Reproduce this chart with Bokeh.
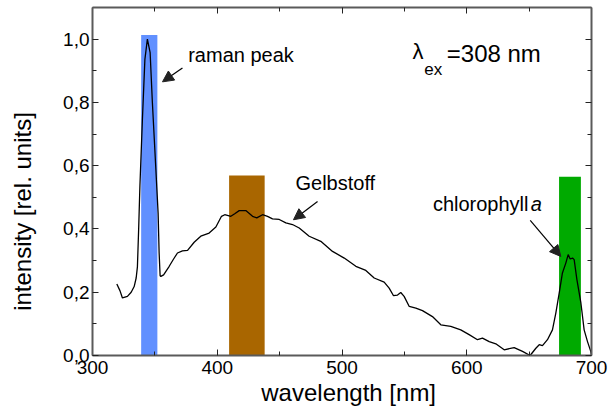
from bokeh.plotting import figure
from bokeh.models import (Range1d, LinearAxis, FixedTicker, CustomJSTickFormatter,
                          Arrow, NormalHead, Label)
from bokeh.embed import file_html
from bokeh.resources import INLINE

# ---- data ----
wavelength = [319.5, 322, 324, 328, 331, 333.4, 335, 336, 337, 338, 340, 342, 344, 346.2,
              348, 350.8, 352.6, 353.4, 354.2, 354.8, 357, 361.5, 365, 368.1, 372.1, 376.2,
              381.5, 386.8, 393.5, 398.9, 403.4, 406, 410.9, 414, 417.6, 422.9, 428.3,
              431.7, 436.3, 440.3, 444.3, 449.7, 455, 460.3, 465.7, 473.7, 483, 492.4,
              501.8, 511.1, 519.1, 525.8, 533.8, 537.8, 541.3, 544.5, 547.1, 549.8, 553.9,
              559.2, 564.5, 572.5, 579.2, 587.2, 595.2, 601.9, 608.6, 612.6, 618, 623.3,
              630, 638, 644.7, 650.8, 655.4, 658.1, 660.7, 664.7, 668.7, 671.4, 674.1,
              676.7, 679.4, 681.3, 682.9, 684.8, 686.1, 688.3, 691.5, 694.1, 696.8, 699.4, 700]
intensity = [0.226, 0.205, 0.182, 0.187, 0.200, 0.218, 0.245, 0.28, 0.40, 0.535, 0.746, 0.936,
             1.0, 0.957, 0.80, 0.588, 0.45, 0.325, 0.252, 0.25, 0.255, 0.282, 0.305, 0.324,
             0.331, 0.332, 0.358, 0.377, 0.387, 0.406, 0.44, 0.445, 0.44, 0.448, 0.458, 0.458,
             0.44, 0.435, 0.445, 0.44, 0.432, 0.43, 0.419, 0.414, 0.403, 0.377, 0.361, 0.329,
             0.308, 0.282, 0.269, 0.245, 0.232, 0.213, 0.189, 0.191, 0.199, 0.187, 0.155,
             0.15, 0.142, 0.123, 0.097, 0.092, 0.081, 0.066, 0.05, 0.055, 0.044, 0.037,
             0.018, 0.025, 0.013, 0.0, 0.023, 0.034, 0.031, 0.05, 0.081, 0.134, 0.197,
             0.261, 0.292, 0.319, 0.305, 0.308, 0.303, 0.24, 0.166, 0.081, 0.044, 0.013, 0.0]

band_left = [339, 409.5, 674]
band_right = [352, 438, 691.5]
band_top = [1.013, 0.569, 0.565]
band_colors = ["#6190FF", "#A96600", "#00AA00"]

x_major = [300, 400, 500, 600, 700]
x_minor = [350, 450, 550, 650]
y_major = [0.0, 0.2, 0.4, 0.6, 0.8, 1.0]
y_minor = [0.1, 0.3, 0.5, 0.7, 0.9]

FONT = "Liberation Sans"
NB = "\u00a0"

p = figure(frame_width=499, frame_height=348, output_backend="svg", toolbar_location=None,
           x_range=Range1d(300, 700), y_range=Range1d(0, 1.1),
           min_border_left=92, min_border_right=17, min_border_top=7, min_border_bottom=50,
           x_axis_label=NB * 2 + "wavelength [nm]",
           y_axis_label="intensity [rel. units]" + NB * 9)
p.outline_line_color = None
p.grid.visible = False
p.background_fill_color = "white"
p.border_fill_color = "white"

p.xaxis.ticker = FixedTicker(ticks=x_major, minor_ticks=x_minor)
p.yaxis.ticker = FixedTicker(ticks=y_major, minor_ticks=y_minor)
p.yaxis.formatter = CustomJSTickFormatter(code="return tick.toFixed(1).replace('.', ',');")

def style_axis(ax):
    ax.axis_line_color = "#5a5a5a"
    ax.axis_line_width = 2
    ax.major_tick_line_color = "#222222"
    ax.minor_tick_line_color = "#222222"
    ax.major_tick_in = 6
    ax.major_tick_out = 0
    ax.minor_tick_in = 4
    ax.minor_tick_out = 0
    ax.major_label_text_font = FONT
    ax.major_label_text_font_size = "19px"
    ax.major_label_text_color = "black"
    ax.axis_label_text_font = FONT
    ax.axis_label_text_font_size = "24px"
    ax.axis_label_text_font_style = "normal"
    ax.axis_label_text_color = "black"

for ax in p.xaxis + p.yaxis:
    style_axis(ax)
p.xaxis.major_label_standoff = 5
p.xaxis.axis_label_standoff = 2
p.yaxis.major_label_standoff = 3
p.yaxis.axis_label_standoff = 24

top = LinearAxis(ticker=FixedTicker(ticks=x_major, minor_ticks=x_minor))
right = LinearAxis(ticker=FixedTicker(ticks=y_major, minor_ticks=y_minor))
for ax in (top, right):
    style_axis(ax)
    ax.formatter = CustomJSTickFormatter(code="return '';")
    ax.major_label_standoff = 0
p.add_layout(top, "above")
p.add_layout(right, "right")

# bands
p.quad(left=band_left, right=band_right, bottom=0, top=band_top,
       fill_color=band_colors, line_color=None)

# spectrum
p.line(wavelength, intensity, line_color="black", line_width=1.3)

# annotations
arrow_tail_x = [372.1, 480.4, 650.9]
arrow_tail_y = [0.909, 0.487, 0.427]
arrow_tip_x = [356.1, 461.1, 675.4]
arrow_tip_y = [0.865, 0.429, 0.313]
for x0, y0, x1, y1 in zip(arrow_tail_x, arrow_tail_y, arrow_tip_x, arrow_tip_y):
    p.add_layout(Arrow(end=NormalHead(size=11, fill_color="#222222", line_color="#222222",
                                      line_width=1),
                       x_start=x0, y_start=y0, x_end=x1, y_end=y1,
                       line_color="black", line_width=1.2))

def lab(x, y, t, size="19px", align="left", style="normal"):
    p.add_layout(Label(x=x, y=y, text=t, text_font=FONT, text_font_size=size,
                       text_align=align, text_baseline="middle", text_color="black",
                       text_font_style=style))

lab(376.7, 0.949, "raman peak", size="20px")
lab(462.7, 0.5465, "Gelbstoff", size="20px")
lab(649.5, 0.478, "chlorophyll", size="20px", align="right")
lab(651.3, 0.478, "a", size="20px", style="italic")
lab(556.5, 0.962, "λ", size="22px")
lab(566.0, 0.904, "ex", size="17px")
lab(584.0, 0.955, "=308 nm", size="24px")

open("out.html", "w").write(file_html(p, INLINE))
